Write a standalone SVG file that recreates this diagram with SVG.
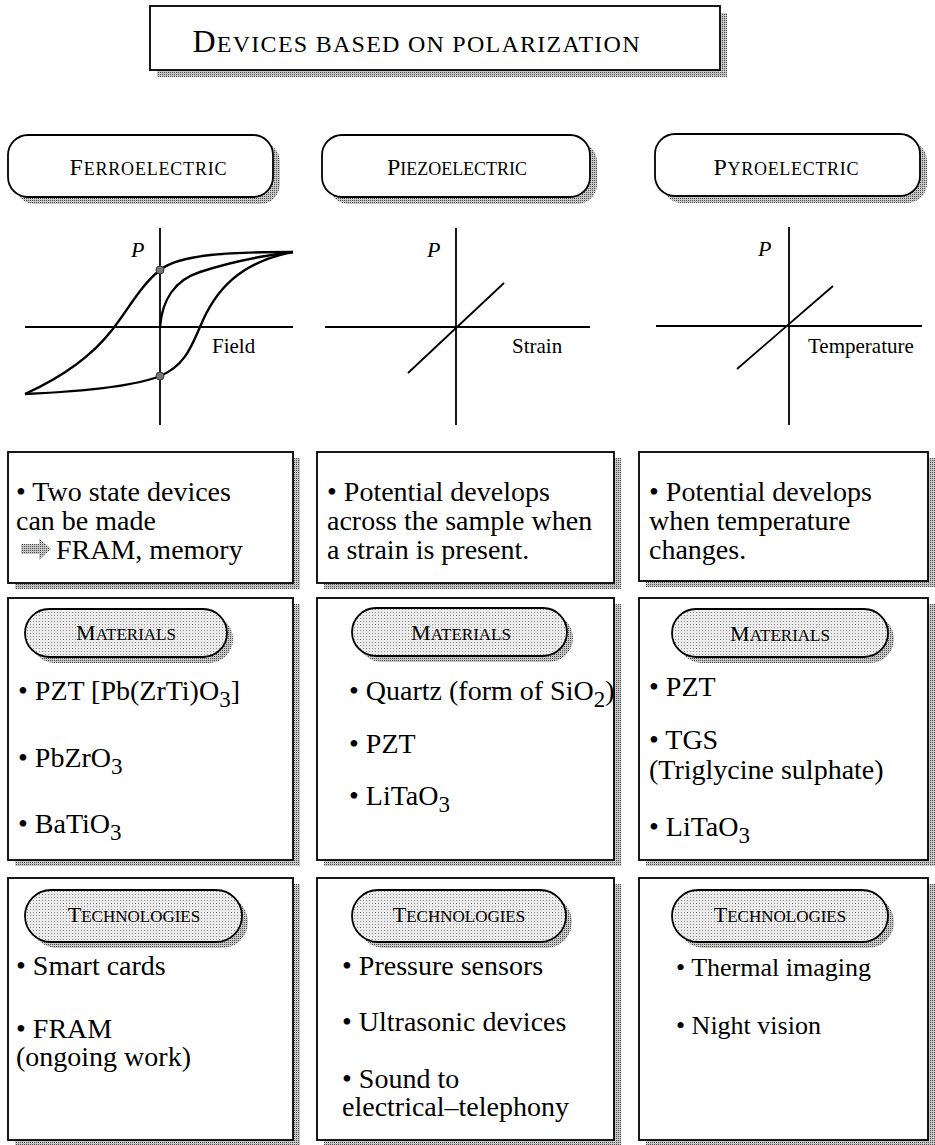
<svg xmlns="http://www.w3.org/2000/svg" width="935" height="1145" viewBox="0 0 935 1145">
<defs>
<pattern id="shd" width="2" height="2" patternUnits="userSpaceOnUse"><rect width="2" height="2" fill="#c8c8c8"/><rect width="1" height="1" fill="#4a4a4a"/></pattern>
<pattern id="pill" width="3" height="3" patternUnits="userSpaceOnUse"><rect width="3" height="3" fill="#ececec"/><rect width="1" height="1" fill="#8a8a8a"/></pattern>
</defs>
<style>
.box{fill:#fff;stroke:#000;stroke-width:1.8}
.sh{fill:url(#shd)}
.pw{fill:#fff;stroke:#000;stroke-width:1.8}
.pg{fill:url(#pill);stroke:#000;stroke-width:1.8}
.ax{stroke:#000;stroke-width:1.8;fill:none}
.cv{stroke:#000;stroke-width:2.4;fill:none}
text{font-family:"Liberation Serif","Times New Roman",serif;fill:#000}
.t{font-size:28px}
.t2{font-size:26px}
.d{font-size:28px}
.lab{font-size:21px}
.pl{font-size:22px;font-style:italic}
.hc{font-size:24px}
.sc{font-size:18px}
.mc{font-size:22px}
.msc{font-size:17px}
.tc{font-size:32px}
.tsc{font-size:24px}
</style>

<g id="title">
<rect class="sh" x="157" y="13" width="570" height="64"/>
<rect class="box" x="150" y="6" width="570" height="64"/>
<text x="416" y="52" text-anchor="middle" textLength="447"><tspan class="tc">D</tspan><tspan class="tsc">EVICES BASED ON POLARIZATION</tspan></text>
</g>

<g id="ferroelectric-header">
<rect class="sh" x="15" y="142" width="265" height="62" rx="20"/>
<rect class="pw" x="8" y="135" width="265" height="62" rx="20"/>
<text x="148" y="175" text-anchor="middle" textLength="157"><tspan class="hc">F</tspan><tspan class="sc">ERROELECTRIC</tspan></text>
</g>
<g id="piezoelectric-header">
<rect class="sh" x="329" y="142" width="268" height="62" rx="20"/>
<rect class="pw" x="322" y="135" width="268" height="62" rx="20"/>
<text x="457" y="175" text-anchor="middle" textLength="140"><tspan class="hc">P</tspan><tspan class="sc">IEZOELECTRIC</tspan></text>
</g>
<g id="pyroelectric-header">
<rect class="sh" x="662" y="141" width="265" height="62" rx="20"/>
<rect class="pw" x="655" y="134" width="265" height="62" rx="20"/>
<text x="786" y="175" text-anchor="middle" textLength="145"><tspan class="hc">P</tspan><tspan class="sc">YROELECTRIC</tspan></text>
</g>

<g id="ferroelectric-graph">
<line class="ax" x1="160" y1="228" x2="160" y2="425"/>
<line class="ax" x1="25" y1="327" x2="293" y2="327"/>
<path class="cv" d="M293,252 C230,252 180,254 160,270 C140,286 128,310 112,330 C92,356 60,378 25,394"/>
<path class="cv" d="M25,394 C70,392 130,388 160,376 C185,366 192,345 200,327 C215,290 240,262 293,252"/>
<path class="cv" d="M160,327 C162,300 175,280 200,272 C230,262 260,256 293,252"/>
<circle cx="160" cy="270" r="4" fill="#777" stroke="#333" stroke-width="1"/>
<circle cx="160" cy="376" r="4" fill="#777" stroke="#333" stroke-width="1"/>
<text class="pl" x="131" y="257">P</text>
<text class="lab" x="212" y="353">Field</text>
</g>

<g id="piezoelectric-graph">
<line class="ax" x1="456" y1="228" x2="456" y2="425"/>
<line class="ax" x1="325" y1="327" x2="590" y2="327"/>
<line class="ax" x1="408" y1="373" x2="504" y2="283"/>
<text class="pl" x="427" y="257">P</text>
<text class="lab" x="512" y="353">Strain</text>
</g>

<g id="pyroelectric-graph">
<line class="ax" x1="789" y1="227" x2="789" y2="425"/>
<line class="ax" x1="656" y1="326" x2="922" y2="326"/>
<line class="ax" x1="737" y1="369" x2="833" y2="286"/>
<text class="pl" x="758" y="256">P</text>
<text class="lab" x="808" y="353">Temperature</text>
</g>

<g id="ferroelectric-description">
<rect class="sh" x="15" y="458" width="285" height="131"/>
<rect class="box" x="8" y="452" width="285" height="131"/>
<text class="d" x="16" y="501">• Two state devices</text>
<text class="d" x="16" y="530">can be made</text>
<polygon points="21,544 39,544 39,538 51,549 39,560 39,554 21,554" fill="url(#shd)"/>
<text class="d" x="56" y="559">FRAM, memory</text>
</g>
<g id="piezoelectric-description">
<rect class="sh" x="324" y="458" width="297" height="131"/>
<rect class="box" x="317" y="452" width="297" height="131"/>
<text class="d" x="327" y="501">• Potential develops</text>
<text class="d" x="327" y="530">across the sample when</text>
<text class="d" x="327" y="559">a strain is present.</text>
</g>
<g id="pyroelectric-description">
<rect class="sh" x="646" y="458" width="289" height="129"/>
<rect class="box" x="639" y="452" width="289" height="129"/>
<text class="d" x="649" y="501">• Potential develops</text>
<text class="d" x="649" y="530">when temperature</text>
<text class="d" x="649" y="559">changes.</text>
</g>

<g id="ferroelectric-materials">
<rect class="sh" x="15" y="604" width="285" height="262"/>
<rect class="box" x="8" y="598" width="285" height="262"/>
<rect class="sh" x="31" y="615" width="202" height="48" rx="24"/>
<rect class="pg" x="25" y="609" width="202" height="48" rx="24"/>
<text x="126" y="640" text-anchor="middle"><tspan class="mc">M</tspan><tspan class="msc">ATERIALS</tspan></text>
<text class="t" x="18" y="700">• PZT [Pb(ZrTi)O<tspan dy="7" font-size="23">3</tspan><tspan dy="-7">]</tspan></text>
<text class="t" x="18" y="767">• PbZrO<tspan dy="7" font-size="23">3</tspan></text>
<text class="t" x="18" y="833">• BaTiO<tspan dy="7" font-size="23">3</tspan></text>
</g>
<g id="piezoelectric-materials">
<rect class="sh" x="324" y="604" width="297" height="262"/>
<rect class="box" x="317" y="598" width="297" height="262"/>
<rect class="sh" x="358" y="614" width="215" height="48" rx="24"/>
<rect class="pg" x="352" y="608" width="215" height="48" rx="24"/>
<text x="461" y="640" text-anchor="middle"><tspan class="mc">M</tspan><tspan class="msc">ATERIALS</tspan></text>
<text class="t" x="349" y="700">• Quartz (form of SiO<tspan dy="7" font-size="23">2</tspan><tspan dy="-7">)</tspan></text>
<text class="t" x="349" y="753">• PZT</text>
<text class="t" x="349" y="805">• LiTaO<tspan dy="7" font-size="23">3</tspan></text>
</g>
<g id="pyroelectric-materials">
<rect class="sh" x="646" y="604" width="289" height="262"/>
<rect class="box" x="639" y="598" width="289" height="262"/>
<rect class="sh" x="678" y="615" width="216" height="48" rx="24"/>
<rect class="pg" x="672" y="609" width="216" height="48" rx="24"/>
<text x="780" y="641" text-anchor="middle"><tspan class="mc">M</tspan><tspan class="msc">ATERIALS</tspan></text>
<text class="t" x="649" y="696">• PZT</text>
<text class="t" x="649" y="749">• TGS</text>
<text class="t" x="649" y="779">(Triglycine sulphate)</text>
<text class="t" x="649" y="836">• LiTaO<tspan dy="7" font-size="23">3</tspan></text>
</g>

<g id="ferroelectric-technologies">
<rect class="sh" x="15" y="884" width="285" height="262"/>
<rect class="box" x="8" y="878" width="285" height="262"/>
<rect class="sh" x="31" y="896" width="217" height="52" rx="26"/>
<rect class="pg" x="25" y="890" width="217" height="52" rx="26"/>
<text x="134" y="922" text-anchor="middle"><tspan class="mc">T</tspan><tspan class="msc">ECHNOLOGIES</tspan></text>
<text class="t" x="16" y="975">• Smart cards</text>
<text class="t" x="16" y="1038">• FRAM</text>
<text class="t" x="16" y="1066">(ongoing work)</text>
</g>
<g id="piezoelectric-technologies">
<rect class="sh" x="324" y="884" width="297" height="262"/>
<rect class="box" x="317" y="878" width="297" height="262"/>
<rect class="sh" x="358" y="896" width="214" height="52" rx="26"/>
<rect class="pg" x="352" y="890" width="214" height="52" rx="26"/>
<text x="459" y="922" text-anchor="middle"><tspan class="mc">T</tspan><tspan class="msc">ECHNOLOGIES</tspan></text>
<text class="t" x="342" y="975">• Pressure sensors</text>
<text class="t" x="342" y="1031">• Ultrasonic devices</text>
<text class="t" x="342" y="1088">• Sound to</text>
<text class="t" x="342" y="1116">electrical–telephony</text>
</g>
<g id="pyroelectric-technologies">
<rect class="sh" x="646" y="884" width="289" height="262"/>
<rect class="box" x="639" y="878" width="289" height="262"/>
<rect class="sh" x="678" y="896" width="216" height="52" rx="26"/>
<rect class="pg" x="672" y="890" width="216" height="52" rx="26"/>
<text x="780" y="922" text-anchor="middle"><tspan class="mc">T</tspan><tspan class="msc">ECHNOLOGIES</tspan></text>
<text class="t2" x="676" y="976">• Thermal imaging</text>
<text class="t2" x="676" y="1034">• Night vision</text>
</g>
</svg>
